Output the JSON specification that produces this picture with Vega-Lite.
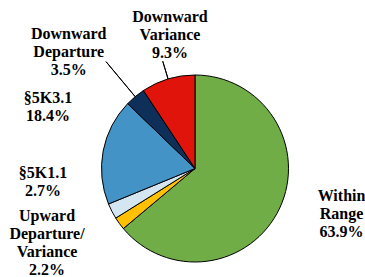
{
  "$schema": "https://vega.github.io/schema/vega-lite/v6.json",
  "width": 330,
  "height": 217,
  "autosize": {"type": "none"},
  "padding": {"left": 30, "top": 60, "right": 5, "bottom": 0},
  "background": "white",
  "config": {"view": {"stroke": null}},
  "data": {
    "values": [
      {"category": "Within Range", "pct": 63.9, "label": "Within\nRange\n63.9%", "idx": 1},
      {"category": "Upward Departure/Variance", "pct": 2.2, "label": "Upward\nDeparture/\nVariance\n2.2%", "idx": 2},
      {"category": "§5K1.1", "pct": 2.7, "label": "§5K1.1\n2.7%", "idx": 3},
      {"category": "§5K3.1", "pct": 18.4, "label": "§5K3.1\n18.4%", "idx": 4},
      {"category": "Downward Departure", "pct": 3.5, "label": "Downward\nDeparture\n3.5%", "idx": 5},
      {"category": "Downward Variance", "pct": 9.3, "label": "Downward\nVariance\n9.3%", "idx": 6}
    ]
  },
  "encoding": {
    "theta": {"field": "pct", "type": "quantitative", "stack": true},
    "order": {"field": "idx", "type": "quantitative"}
  },
  "layer": [
    {
      "mark": {"type": "arc", "outerRadius": 93.5, "stroke": "black", "strokeWidth": 1},
      "encoding": {
        "color": {
          "field": "category",
          "type": "nominal",
          "scale": {
            "domain": ["Within Range", "Upward Departure/Variance", "§5K1.1", "§5K3.1", "Downward Departure", "Downward Variance"],
            "range": ["#70AD47", "#FFC000", "#D4E6F1", "#4393C6", "#0D2F5A", "#E0140A"]
          },
          "legend": null
        }
      }
    },
    {
      "mark": {"type": "arc", "innerRadius": 93.5, "outerRadius": 112, "padAngle": 3.1, "fillOpacity": 0, "stroke": "black", "strokeWidth": 1},
      "encoding": {"strokeOpacity": {"condition": {"test": "datum.category === 'Downward Variance'", "value": 1}, "value": 0}}
    },
    {
      "mark": {"type": "arc", "innerRadius": 93.5, "outerRadius": 139, "padAngle": 3.1, "fillOpacity": 0, "stroke": "black", "strokeWidth": 1},
      "encoding": {"strokeOpacity": {"condition": {"test": "datum.category === 'Downward Departure'", "value": 1}, "value": 0}}
    },
    {
      "mark": {"type": "text", "radius": 130, "dx": 28.7, "dy": -35.5, "align": "center", "baseline": "top", "font": "Liberation Serif", "fontWeight": "bold", "fontSize": 16, "lineHeight": 18, "lineBreak": "\n", "color": "black"},
      "encoding": {"text": {"condition": {"test": "datum.category === 'Within Range'", "field": "label", "type": "nominal"}, "value": ""}}
    },
    {
      "mark": {"type": "text", "radius": 130, "dx": -42.8, "dy": -36.9, "align": "center", "baseline": "top", "font": "Liberation Serif", "fontWeight": "bold", "fontSize": 16, "lineHeight": 18, "lineBreak": "\n", "color": "black"},
      "encoding": {"text": {"condition": {"test": "datum.category === 'Upward Departure/Variance'", "field": "label", "type": "nominal"}, "value": ""}}
    },
    {
      "mark": {"type": "text", "radius": 130, "dx": -36.4, "dy": -62.6, "align": "center", "baseline": "top", "font": "Liberation Serif", "fontWeight": "bold", "fontSize": 16, "lineHeight": 18, "lineBreak": "\n", "color": "black"},
      "encoding": {"text": {"condition": {"test": "datum.category === '§5K1.1'", "field": "label", "type": "nominal"}, "value": ""}}
    },
    {
      "mark": {"type": "text", "radius": 130, "dx": -19.3, "dy": -54.4, "align": "center", "baseline": "top", "font": "Liberation Serif", "fontWeight": "bold", "fontSize": 16, "lineHeight": 18, "lineBreak": "\n", "color": "black"},
      "encoding": {"text": {"condition": {"test": "datum.category === '§5K3.1'", "field": "label", "type": "nominal"}, "value": ""}}
    },
    {
      "mark": {"type": "text", "radius": 130, "dx": -43.1, "dy": -42.6, "align": "center", "baseline": "top", "font": "Liberation Serif", "fontWeight": "bold", "fontSize": 16, "lineHeight": 18, "lineBreak": "\n", "color": "black"},
      "encoding": {"text": {"condition": {"test": "datum.category === 'Downward Departure'", "field": "label", "type": "nominal"}, "value": ""}}
    },
    {
      "mark": {"type": "text", "radius": 130, "dx": 12.4, "dy": -35.5, "align": "center", "baseline": "top", "font": "Liberation Serif", "fontWeight": "bold", "fontSize": 16, "lineHeight": 18, "lineBreak": "\n", "color": "black"},
      "encoding": {"text": {"condition": {"test": "datum.category === 'Downward Variance'", "field": "label", "type": "nominal"}, "value": ""}}
    }
  ]
}
